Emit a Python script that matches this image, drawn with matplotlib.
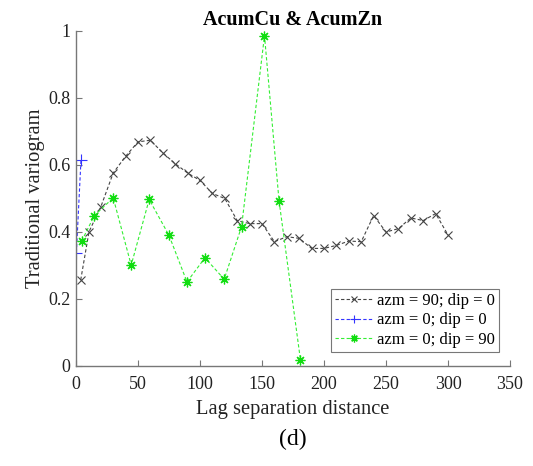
import matplotlib
matplotlib.use("Agg")
import matplotlib.pyplot as plt
from matplotlib.ticker import FuncFormatter

plt.rcParams['font.family'] = ['Liberation Serif', 'DejaVu Serif']

# Lag distances and variogram values for each direction
lag_azm90 = [3.8, 10.5, 20, 30, 40, 50, 60, 70, 80, 90, 100, 110, 120, 130,
             140, 150, 160, 170, 180, 190, 200, 210, 220, 230,
             240, 250, 260, 270, 280, 290, 300]
gam_azm90 = [0.257, 0.401, 0.475, 0.576, 0.626, 0.669, 0.674, 0.636, 0.604, 0.576,
             0.554, 0.515, 0.500, 0.434, 0.425, 0.425, 0.371, 0.386, 0.381, 0.351,
             0.351, 0.360, 0.373, 0.371, 0.449, 0.400, 0.410, 0.442, 0.434, 0.455,
             0.391]

lag_azm0 = [0.3, 4.0]
gam_azm0 = [0.338, 0.614]

lag_dip90 = [4.6, 14.8, 30, 44.5, 59, 75, 89.5, 104, 119.5, 133.5, 152, 163.7, 181]
gam_dip90 = [0.373, 0.449, 0.502, 0.301, 0.497, 0.390, 0.251, 0.323, 0.259, 0.416,
             0.986, 0.494, 0.018]

labels = ['azm = 90; dip = 0', 'azm = 0; dip = 0', 'azm = 0; dip = 90']
x_ticks = [0, 50, 100, 150, 200, 250, 300, 350]
y_ticks = [0, 0.2, 0.4, 0.6, 0.8, 1.0]

fig = plt.figure(figsize=(5.33, 4.66), dpi=100)
ax = fig.add_axes([0.1426, 0.2146, 0.8143, 0.7189])

dash = (0, (3, 2))
ax.plot(lag_azm90, gam_azm90, color='#444444', linestyle=dash, linewidth=0.8,
        marker='x', markersize=6, markeredgewidth=0.8, label=labels[0])
ax.plot(lag_azm0, gam_azm0, color='#3333ff', linestyle=dash, linewidth=0.8,
        marker='+', markersize=8, markeredgewidth=0.8, label=labels[1])
ax.plot(lag_dip90, gam_dip90, color='#33ee33', linestyle=dash, linewidth=0.8,
        marker=(8, 2, 0), markersize=7, markeredgewidth=0.9,
        markeredgecolor='#11dd11', label=labels[2])

ax.set_xlim(0, 350)
ax.set_ylim(0, 1)
ax.set_xticks(x_ticks)
ax.set_yticks(y_ticks)
ax.yaxis.set_major_formatter(FuncFormatter(lambda v, p: f'{v:g}'))

for s in ('top', 'right'):
    ax.spines[s].set_visible(False)
for s in ('left', 'bottom'):
    ax.spines[s].set_color('#777777')
    ax.spines[s].set_linewidth(1.0)
ax.tick_params(direction='in', length=4, width=0.8, color='#777777',
               labelsize=13, labelcolor='#222222')
ax.tick_params(axis='x', pad=7)
ax.tick_params(axis='y', pad=4)

ax.set_xlabel('Lag separation distance', fontsize=14.8, color='#222222', labelpad=5)
ax.set_ylabel('Traditional variogram', fontsize=14.8, color='#222222', labelpad=2)
ax.set_title('AcumCu & AcumZn', fontsize=14.5, fontweight='bold', pad=4)

leg = ax.legend(loc='lower right', bbox_to_anchor=(0.975, 0.042), fontsize=12,
                frameon=True, fancybox=False, edgecolor='#555555',
                handlelength=2.2, handletextpad=0.3, borderpad=0.25,
                labelspacing=0.2, borderaxespad=0, markerscale=0.8)
leg.get_frame().set_linewidth(0.8)

fig.text(0.1426 + 0.8143 / 2, 0.058, '(d)', fontsize=17, ha='center', va='center')

fig.savefig('out.png', dpi=100)
